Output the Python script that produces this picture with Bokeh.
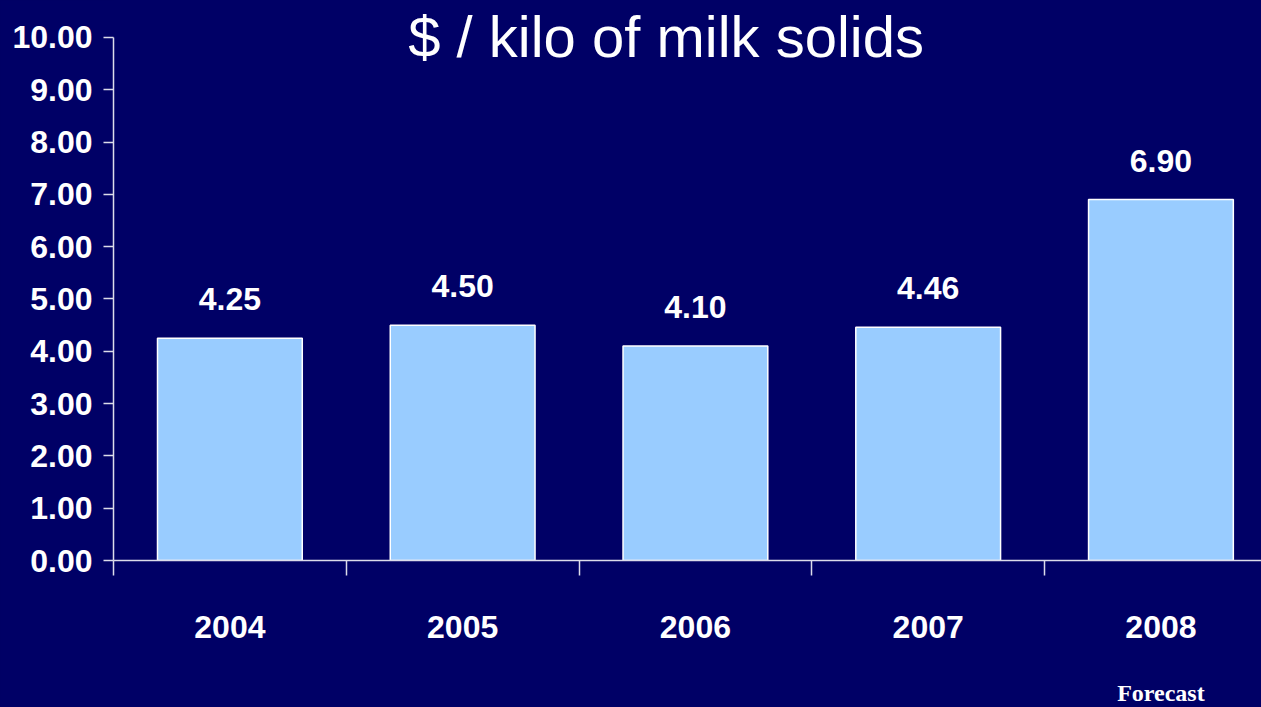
from bokeh.plotting import figure
from bokeh.models import FixedTicker, Range1d, Label, ColumnDataSource, NumeralTickFormatter, LinearAxis
from bokeh.core.properties import value
from bokeh.embed import file_html
from bokeh.resources import INLINE

# ---- data ----
years = ["2004", "2005", "2006", "2007", "2008"]
prices = [4.25, 4.50, 4.10, 4.46, 6.90]
price_labels = ["4.25", "4.50", "4.10", "4.46", "6.90"]
y_ticks = [0, 1, 2, 3, 4, 5, 6, 7, 8, 9, 10]
title_text = "$ / kilo of milk solids"
note_text = "Forecast"

BG = "#000066"
BAR = "#99CCFF"
AX = "#dcdcea"
BOLD = "Liberation Sans"

x_pos = list(range(len(years)))
src = ColumnDataSource(dict(x=x_pos, top=prices, label=price_labels))

p = figure(frame_width=1148, frame_height=560, output_backend="svg", toolbar_location=None,
           title=None,
           x_range=Range1d(-0.5, 4.432), y_range=Range1d(0, 10.707),
           min_border_left=113, min_border_right=0, min_border_top=0, min_border_bottom=147)
p.background_fill_color = BG
p.border_fill_color = BG
p.outline_line_color = None
p.xgrid.visible = False
p.ygrid.visible = False

p.vbar(x="x", top="top", bottom=0, width=0.622, source=src,
       fill_color=BAR, line_color="white", line_width=1.5)

p.text(x="x", y="top", text="label", source=src, y_offset=-39,
       text_align="center", text_baseline="alphabetic", text_color="white",
       text_font=value(BOLD), text_font_style="bold", text_font_size="32px")

p.add_layout(Label(x=1.874, y=10.02, text=title_text, text_align="center",
                   text_baseline="alphabetic", text_color="white",
                   text_font="Liberation Sans", text_font_size="58px"))

ya = p.yaxis[0]
ya.ticker = FixedTicker(ticks=y_ticks)
ya.formatter = NumeralTickFormatter(format="0.00")
ya.bounds = (0, 10)
ya.axis_line_color = AX
ya.axis_line_width = 1.5
ya.major_tick_line_color = AX
ya.major_tick_line_width = 1.5
ya.major_tick_out = 10
ya.major_tick_in = 0
ya.minor_tick_out = 0
ya.minor_tick_in = 0
ya.major_label_text_color = "white"
ya.major_label_text_font = BOLD
ya.major_label_text_font_style = "bold"
ya.major_label_text_font_size = "32px"
ya.major_label_standoff = 11

xa = p.xaxis[0]
xa.ticker = FixedTicker(ticks=x_pos, minor_ticks=[i - 0.5 for i in range(len(years) + 1)])
xa.major_label_overrides = {i: y for i, y in zip(x_pos, years)}
xa.axis_line_color = AX
xa.axis_line_width = 1.5
xa.major_tick_out = 0
xa.major_tick_in = 0
xa.minor_tick_out = 15
xa.minor_tick_in = 0
xa.minor_tick_line_color = AX
xa.minor_tick_line_width = 1.5
xa.major_label_text_color = "white"
xa.major_label_text_font = BOLD
xa.major_label_text_font_style = "bold"
xa.major_label_text_font_size = "32px"
xa.major_label_standoff = 40

# second (label-only) axis for the "Forecast" note under 2008
na = LinearAxis(ticker=FixedTicker(ticks=[x_pos[-1]], minor_ticks=[]),
                major_label_overrides={x_pos[-1]: note_text})
na.axis_line_color = None
na.major_tick_line_color = None
na.minor_tick_line_color = None
na.major_tick_out = 0
na.major_tick_in = 0
na.major_label_text_color = "white"
na.major_label_text_font = "Liberation Serif"
na.major_label_text_font_style = "bold"
na.major_label_text_font_size = "24px"
na.major_label_standoff = 39
p.add_layout(na, "below")

html = file_html(p, INLINE)
html = html.replace("<head>", "<head><style>html,body{background-color:#000066;}</style>", 1)
open("out.html", "w").write(html)
